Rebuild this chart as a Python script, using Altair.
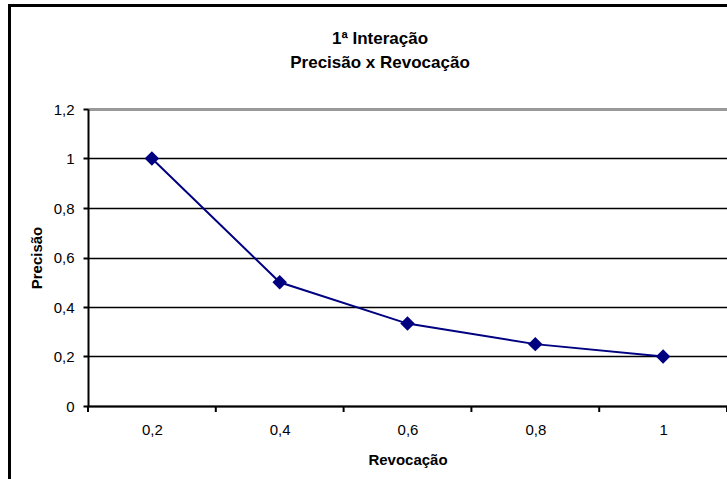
import altair as alt
import pandas as pd

recall = [0.2, 0.4, 0.6, 0.8, 1.0]
precision = [1.0, 0.5, 0.333, 0.25, 0.2]
x_tick_bounds = [0.1, 0.3, 0.5, 0.7, 0.9, 1.1]
y_ticks = [0, 0.2, 0.4, 0.6, 0.8, 1.0, 1.2]
title_lines = ["1ª Interação", "Precisão x Revocação"]

df = pd.DataFrame({"Revocação": recall, "Precisão": precision})
ticks_df = pd.DataFrame({"b": x_tick_bounds})

W, H = 639, 297
FONT = "Liberation Sans"

xscale = alt.Scale(domain=[0.1, 1.1], nice=False, zero=False)
yscale = alt.Scale(domain=[0, 1.2], nice=False)

base = alt.Chart(df).encode(
    x=alt.X("Revocação:Q", scale=xscale,
            axis=alt.Axis(values=recall, ticks=False, grid=False,
                          labelExpr="replace(toString(datum.value), '.', ',')",
                          labelFont=FONT, labelFontSize=15, labelColor="black",
                          labelPadding=16, domainColor="black", domainWidth=2,
                          title="Revocação", titleFont=FONT, titleFontSize=15,
                          titleFontWeight="bold", titleColor="black", titlePadding=15)),
    y=alt.Y("Precisão:Q", scale=yscale,
            axis=alt.Axis(values=y_ticks,
                          labelExpr="replace(toString(datum.value), '.', ',')",
                          labelFont=FONT, labelFontSize=15, labelColor="black",
                          labelPadding=9, tickSize=5, tickColor="black", tickWidth=2,
                          domainColor="black", domainWidth=2,
                          grid=True,
                          gridColor={"condition": {"test": "datum.value >= 1.2", "value": "#999999"},
                                     "value": "black"},
                          gridWidth={"condition": {"test": "datum.value >= 1.2", "value": 3},
                                     "value": 1.5},
                          title="Precisão", titleFont=FONT, titleFontSize=15,
                          titleFontWeight="bold", titleColor="black", titlePadding=9)),
)

line = base.mark_line(color="#000080", strokeWidth=2)
points = base.mark_point(shape="diamond", filled=True, color="#000080", size=210, opacity=1)

xticks = alt.Chart(ticks_df).mark_rule(color="black", strokeWidth=2).encode(
    x=alt.X("b:Q", scale=xscale),
    y=alt.value(H),
    y2=alt.value(H + 6),
)

border_left = alt.Chart(ticks_df).mark_rule(color="black", strokeWidth=3).encode(
    x=alt.value(-78.5), y=alt.value(-104), y2=alt.value(H + 80))
border_top = alt.Chart(ticks_df).mark_rule(color="black", strokeWidth=3).encode(
    x=alt.value(-80), x2=alt.value(W + 10), y=alt.value(-103.5))

title1 = alt.Chart(pd.DataFrame({"t": [title_lines[0]]})).mark_text(
    font=FONT, fontSize=17, fontWeight="bold", color="black",
    align="center", baseline="alphabetic").encode(
    text="t:N", x=alt.value(292), y=alt.value(-65))
title2 = alt.Chart(pd.DataFrame({"t": [title_lines[1]]})).mark_text(
    font=FONT, fontSize=17, fontWeight="bold", color="black",
    align="center", baseline="alphabetic").encode(
    text="t:N", x=alt.value(292), y=alt.value(-41))

chart = alt.layer(border_left, border_top, title1, title2, xticks, line, points).properties(
    width=W, height=H,
    padding={"left": 88, "top": 109, "right": 0, "bottom": 73},
    autosize=alt.AutoSizeParams(type="none"),
    background="white",
).configure_view(stroke="#999999", strokeWidth=1)

chart.save("out.html", embed_options={"renderer": "svg", "actions": False})
